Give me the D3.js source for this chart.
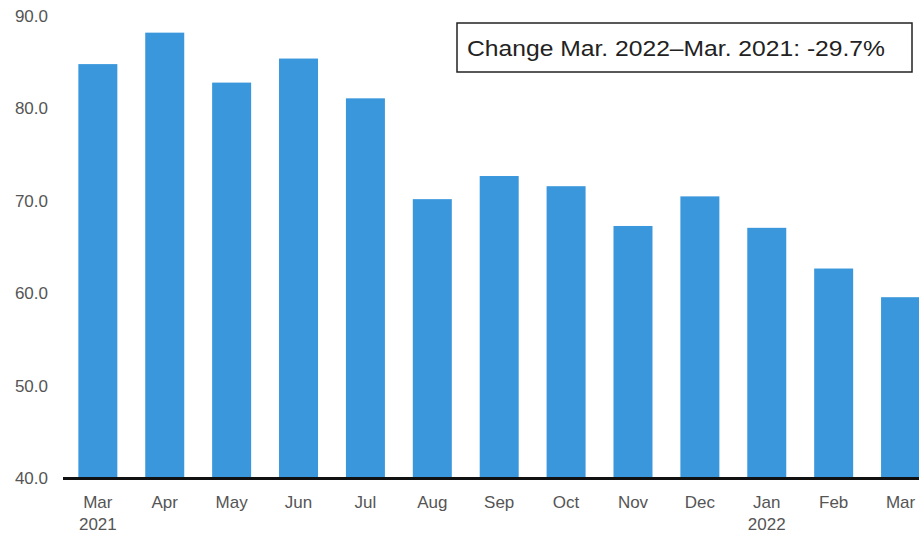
<!DOCTYPE html>
<html>
<head>
<meta charset="utf-8">
<script src="https://cdn.jsdelivr.net/npm/d3@7"></script>
<style>
  body { margin: 0; background: #fff; }
  svg { display: block; font-family: Arial, "Liberation Sans", sans-serif; }
</style>
</head>
<body>
<svg width="919" height="533"></svg>
<script>
// maanden en waarden
const months = ['Mar', 'Apr', 'May', 'Jun', 'Jul', 'Aug', 'Sep', 'Oct', 'Nov', 'Dec', 'Jan', 'Feb', 'Mar'];
const years = ['2021', '', '', '', '', '', '', '', '', '', '2022', '', ''];
const values = [84.8, 88.2, 82.8, 85.4, 81.1, 70.2, 72.7, 71.6, 67.3, 70.5, 67.1, 62.7, 59.6];
const yTicks = [40, 50, 60, 70, 80, 90];
const note = 'Change Mar. 2022\u2013Mar. 2021: -29.7%';

const svg = d3.select('svg');
const width = +svg.attr('width');
const height = +svg.attr('height');

const data = months.map((m, i) => ({ key: i, month: m, year: years[i], value: values[i] }));

const xscale = d3.scaleBand()
    .domain(data.map(d => d.key))
    .range([64.4, 934])
    .paddingInner(0.417)
    .paddingOuter(0.2085);

const yscale = d3.scaleLinear()
    .domain([40, 90])
    .range([478.5, 16]);

// bars
svg.append('g').selectAll('rect').data(data)
    .enter()
    .append('rect')
        .attr('x', d => xscale(d.key))
        .attr('y', d => yscale(d.value))
        .attr('width', xscale.bandwidth())
        .attr('height', d => yscale(40) - yscale(d.value))
        .attr('fill', '#3b97dc');

// y-as labels
const yAxis = svg.append('g')
    .attr('transform', 'translate(48,0)')
    .call(d3.axisLeft(yscale).tickValues(yTicks).tickFormat(d3.format('.1f')).tickSize(0).tickPadding(0));
yAxis.select('.domain').remove();
yAxis.selectAll('text')
    .attr('font-size', 17)
    .attr('font-family', 'Arial, "Liberation Sans", sans-serif')
    .attr('fill', '#555');

// x-as
const xAxis = svg.append('g')
    .attr('transform', `translate(0, ${yscale(40)})`)
    .call(d3.axisBottom(xscale).tickSize(0).tickFormat(''));
xAxis.select('.domain')
    .attr('d', `M63,0H${width}`)
    .attr('stroke', '#111')
    .attr('stroke-width', 3);

xAxis.selectAll('.tick').each(function(k) {
    const t = d3.select(this).select('text')
        .attr('y', 0)
        .attr('dy', null)
        .attr('font-size', 17)
        .attr('font-family', 'Arial, "Liberation Sans", sans-serif')
        .attr('fill', '#555');
    t.append('tspan').attr('x', 0).attr('y', 29).text(data[k].month);
    if (data[k].year) t.append('tspan').attr('x', 0).attr('y', 51).text(data[k].year);
});

// notitie kader
const box = svg.append('g');
box.append('rect')
    .attr('x', 457).attr('y', 23)
    .attr('width', 455).attr('height', 49)
    .attr('fill', '#fff')
    .attr('stroke', '#222')
    .attr('stroke-width', 1.5);
box.append('text')
    .attr('x', 676).attr('y', 56)
    .attr('text-anchor', 'middle')
    .attr('font-size', 21.5)
    .attr('textLength', 418)
    .attr('lengthAdjust', 'spacingAndGlyphs')
    .attr('fill', '#222')
    .text(note);
</script>
</body>
</html>
